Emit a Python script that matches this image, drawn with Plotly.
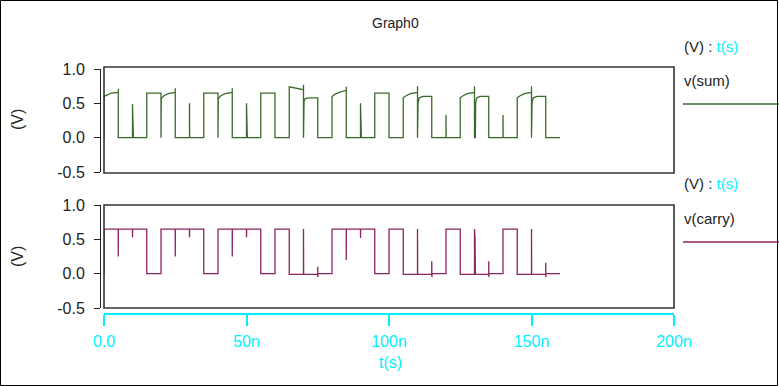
import plotly.graph_objects as go

W, H = 779, 386

# ---- data (time in ns, voltage in V) ----
sum_t = [0, 0, 1, 2.5, 5, 5, 5,
         10, 10, 10.3,
         15, 15, 20, 20, 20.1, 21, 22.5, 25, 25, 25,
         30, 30, 30.05,
         35, 35, 40, 40, 40.1, 41, 42.5, 45, 45, 45,
         50, 50, 50.3,
         55, 55, 60, 60,
         65, 65, 67, 70, 70, 70, 70.2, 70.6, 72, 75, 75,
         80, 80, 81, 82.5, 85, 85, 85,
         90, 90, 90.3,
         95, 95, 100, 100,
         105, 105, 106, 107.5, 110, 110, 110, 110.2, 110.6, 112, 115, 115,
         120, 120, 120.05,
         125, 125, 126, 127.5, 130, 130, 130, 130.3, 130.4, 130.8, 132, 135, 135,
         140, 140, 140.05,
         145, 145, 146, 147.5, 150, 150, 150, 150.2, 150.6, 152, 155, 155,
         160]
sum_v = [0, 0.60, 0.62, 0.65, 0.66, 0.71, 0,
         0, 0.49, 0,
         0, 0.65, 0.65, 0, 0.57, 0.61, 0.64, 0.66, 0.72, 0,
         0, 0.50, 0,
         0, 0.65, 0.65, 0, 0.57, 0.61, 0.64, 0.66, 0.72, 0,
         0, 0.50, 0,
         0, 0.65, 0.65, 0,
         0, 0.74, 0.72, 0.70, 0.77, 0, 0.53, 0.57, 0.58, 0.58, 0,
         0, 0.60, 0.63, 0.66, 0.69, 0.74, 0,
         0, 0.50, 0,
         0, 0.65, 0.65, 0,
         0, 0.58, 0.61, 0.64, 0.66, 0.75, 0, 0.51, 0.58, 0.60, 0.60, 0,
         0, 0.33, 0,
         0, 0.58, 0.61, 0.64, 0.66, 0.75, 0, 0.0, 0.51, 0.58, 0.60, 0.60, 0,
         0, 0.33, 0,
         0, 0.58, 0.61, 0.64, 0.66, 0.75, 0, 0.51, 0.58, 0.60, 0.60, 0,
         0]

carry_t = [0, 0, 5, 5, 5.05, 10, 10, 10.05, 15, 15,
           20, 20, 25, 25, 25.05, 30, 30, 30.05, 35, 35,
           40, 40, 45, 45, 45.05, 50, 50, 50.05, 55, 55,
           60, 60, 65, 65, 70, 70, 70.05, 75, 75, 75.05, 75.1,
           80, 80, 85, 85, 85.05, 90, 90, 90.05, 95, 95,
           100, 100, 105, 105, 110, 110, 110.05, 115, 115, 115.05, 115.1,
           120, 120, 125, 125, 130, 130, 130.05, 130.2, 130.2, 130.3, 135, 135, 135.05, 135.1,
           140, 140, 145, 145, 150, 150, 150.05, 155, 155, 155.05, 155.1,
           160]
carry_v = [0, 0.65, 0.65, 0.25, 0.65, 0.65, 0.53, 0.65, 0.65, 0,
           0, 0.65, 0.65, 0.25, 0.65, 0.65, 0.53, 0.65, 0.65, 0,
           0, 0.65, 0.65, 0.25, 0.65, 0.65, 0.53, 0.65, 0.65, 0,
           0, 0.65, 0.65, -0.01, -0.01, 0.65, -0.01, -0.01, 0.10, -0.05, 0,
           0, 0.65, 0.65, 0.20, 0.65, 0.65, 0.52, 0.65, 0.65, 0,
           0, 0.65, 0.65, -0.01, -0.01, 0.65, -0.01, -0.01, 0.18, -0.05, 0,
           0, 0.65, 0.65, -0.01, -0.01, 0.65, -0.01, -0.01, 0.52, -0.01, -0.01, 0.18, -0.05, 0,
           0, 0.65, 0.65, -0.01, -0.01, 0.65, -0.01, -0.01, 0.16, -0.05, 0,
           0]

x_tickvals = [0, 50, 100, 150, 200]
x_ticktext = ["0.0", "50n", "100n", "150n", "200n"]
y_tickvals = [-0.5, 0.0, 0.5, 1.0]
y_ticktext = ["-0.5", "0.0", "0.5", "1.0"]

GREEN = "#3a6a2a"
PURPLE = "#8b2462"
CYAN = "#00f0ff"
DARK = "#222222"
FONT = "Liberation Sans, Arial, sans-serif"


def px(x):
    return x / W


def py(y):
    return 1 - y / H


fig = go.Figure()
fig.add_trace(go.Scatter(x=sum_t, y=sum_v, mode="lines", xaxis="x", yaxis="y",
                         line=dict(color=GREEN, width=1.3), showlegend=False))
fig.add_trace(go.Scatter(x=carry_t, y=carry_v, mode="lines", xaxis="x", yaxis="y2",
                         line=dict(color=PURPLE, width=1.3), showlegend=False))

yax = dict(range=[-0.5, 1.0], tickvals=y_tickvals, ticktext=y_ticktext,
           showgrid=False, zeroline=False, showline=True, linecolor=DARK, linewidth=1,
           ticks="outside", ticklen=6, tickcolor=DARK, tickwidth=1,
           tickfont=dict(family=FONT, size=16, color=DARK),
           anchor="free", position=px(100), ticklabelstandoff=6, automargin=False)

fig.update_layout(
    template="none",
    width=W, height=H,
    margin=dict(l=0, r=0, t=0, b=0, pad=0, autoexpand=False),
    paper_bgcolor="white", plot_bgcolor="white",
    xaxis=dict(range=[0, 200], domain=[px(104), px(674)], tickvals=x_tickvals,
               ticktext=x_ticktext, showgrid=False, zeroline=False,
               showline=True, linecolor=CYAN, linewidth=2,
               ticks="outside", ticklen=11, tickcolor=CYAN, tickwidth=1.5,
               tickfont=dict(family=FONT, size=16, color=CYAN),
               anchor="free", position=py(314), ticklabelstandoff=2, automargin=False),
    yaxis=dict(domain=[py(172), py(69)], **yax),
    yaxis2=dict(domain=[py(308), py(205)], **yax),
    showlegend=False,
)

shapes = []
# plot frames
for (y0, y1) in [(67, 173), (205, 308)]:
    shapes.append(dict(type="rect", xref="paper", yref="paper",
                       x0=px(104), x1=px(674), y0=py(y1), y1=py(y0),
                       line=dict(color="#333333", width=1.6)))
# legend lines
shapes.append(dict(type="line", xref="paper", yref="paper",
                   x0=px(683), x1=px(779), y0=py(104), y1=py(104),
                   line=dict(color=GREEN, width=1.5)))
shapes.append(dict(type="line", xref="paper", yref="paper",
                   x0=px(683), x1=px(779), y0=py(242), y1=py(242),
                   line=dict(color=PURPLE, width=1.5)))
# outer border
shapes.append(dict(type="rect", xref="paper", yref="paper",
                   x0=px(0.5), x1=px(777.5), y0=py(385.5), y1=py(0.5),
                   line=dict(color="#000000", width=1)))
fig.update_layout(shapes=shapes)

ann = []
ann.append(dict(text="Graph0", x=px(395), y=py(23), xref="paper", yref="paper",
                showarrow=False, font=dict(family=FONT, size=14, color=DARK),
                xanchor="center", yanchor="middle"))
for yy in [120, 257]:
    ann.append(dict(text="(V)", x=px(17), y=py(yy), xref="paper", yref="paper",
                    showarrow=False, textangle=-90,
                    font=dict(family=FONT, size=16, color=DARK),
                    xanchor="center", yanchor="middle"))
for (yy, name) in [(47, "v(sum)"), (184, "v(carry)")]:
    ann.append(dict(text="(V) : <span style='color:%s'>t(s)</span>" % CYAN,
                    x=px(682), y=py(yy), xref="paper", yref="paper",
                    showarrow=False, font=dict(family=FONT, size=15, color=DARK),
                    xanchor="left", yanchor="middle"))
    ann.append(dict(text=name, x=px(682), y=py(yy + 34), xref="paper", yref="paper",
                    showarrow=False, font=dict(family=FONT, size=15, color=DARK),
                    xanchor="left", yanchor="middle"))
ann.append(dict(text="t(s)", x=px(390), y=py(362), xref="paper", yref="paper",
                showarrow=False, font=dict(family=FONT, size=16, color=CYAN),
                xanchor="center", yanchor="middle"))
fig.update_layout(annotations=ann)

fig.write_html("out.html", config={"displayModeBar": False},
               post_script="document.body.style.margin='0';document.body.style.overflow='hidden';")
